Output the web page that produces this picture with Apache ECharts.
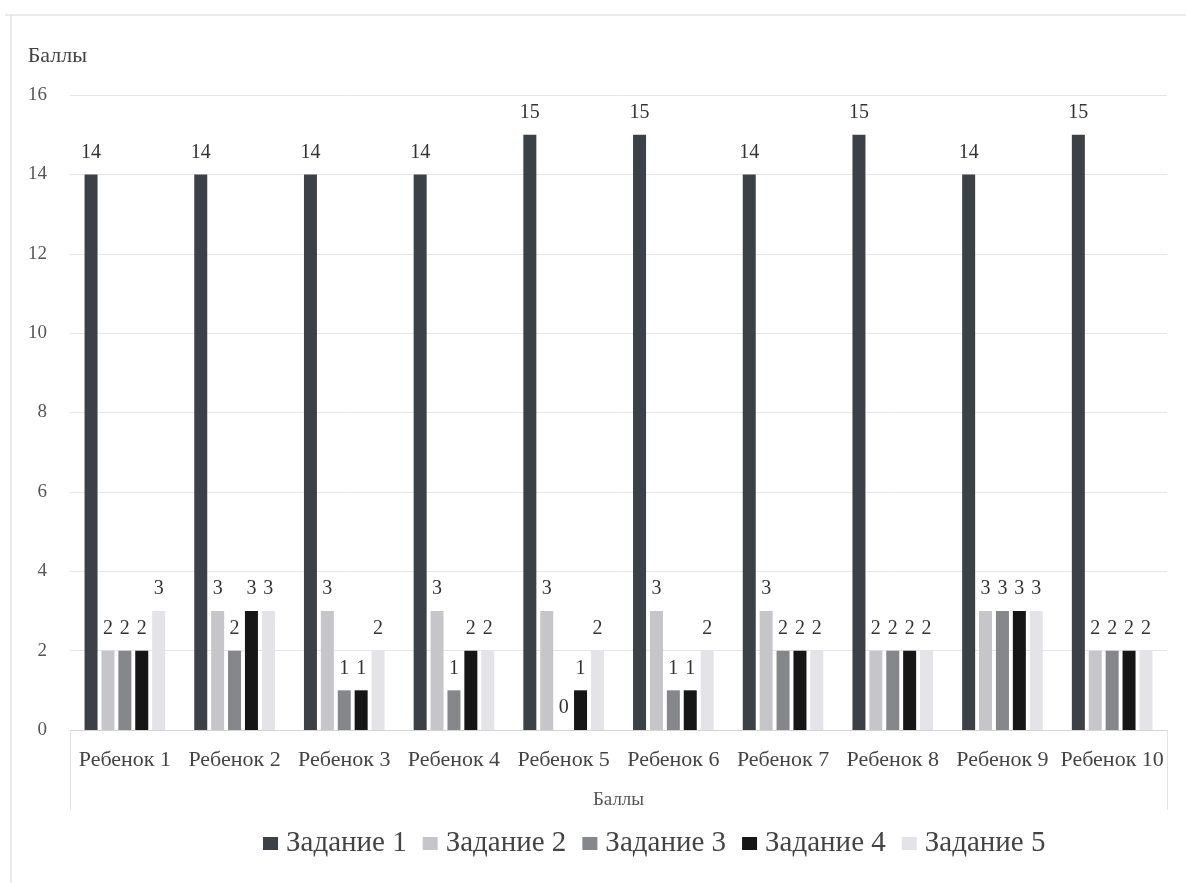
<!DOCTYPE html>
<html>
<head>
<meta charset="utf-8">
<script src="https://cdn.jsdelivr.net/npm/echarts@6/dist/echarts.min.js"></script>
<style>
  html, body { margin: 0; padding: 0; background: #ffffff; }
  #chart { width: 1186px; height: 883px; }
</style>
</head>
<body>
<div id="chart"></div>
<script>
// Scores of each child for the five tasks
const categories = ['Ребенок 1', 'Ребенок 2', 'Ребенок 3', 'Ребенок 4', 'Ребенок 5',
                    'Ребенок 6', 'Ребенок 7', 'Ребенок 8', 'Ребенок 9', 'Ребенок 10'];
const seriesNames = ['Задание 1', 'Задание 2', 'Задание 3', 'Задание 4', 'Задание 5'];
const task1 = [14, 14, 14, 14, 15, 15, 14, 15, 14, 15];
const task2 = [2, 3, 3, 3, 3, 3, 3, 2, 3, 2];
const task3 = [2, 2, 1, 1, 0, 1, 2, 2, 3, 2];
const task4 = [2, 3, 1, 2, 1, 1, 2, 2, 3, 2];
const task5 = [3, 3, 2, 2, 2, 2, 2, 2, 3, 2];
const yTicks = { min: 0, max: 16, interval: 2 };

const seriesData = [task1, task2, task3, task4, task5];
const colors = ['#3c4147', '#c6c6ca', '#86878b', '#161616', '#e3e3e8'];
const serif = '"Liberation Serif", "DejaVu Serif", serif';

const chart = echarts.init(document.getElementById('chart'), null, { renderer: 'canvas' });

chart.setOption({
  backgroundColor: '#ffffff',
  animation: false,
  color: colors,
  textStyle: { fontFamily: serif },
  grid: { left: 70, right: 19, top: 95, bottom: 153, containLabel: false },
  legend: {
    data: seriesNames,
    bottom: 20,
    left: 258,
    itemWidth: 15,
    itemHeight: 13,
    itemGap: 16,
    icon: 'rect',
    textStyle: { fontFamily: serif, fontSize: 29, color: '#444', padding: [0, 0, 0, 3] }
  },
  xAxis: {
    type: 'category',
    data: categories,
    name: 'Баллы',
    nameLocation: 'middle',
    nameGap: 61,
    nameTextStyle: { fontFamily: serif, fontSize: 19, color: '#555' },
    axisLine: { show: true, lineStyle: { color: '#d4d4d4', width: 1 } },
    axisTick: { show: false },
    axisLabel: { fontFamily: serif, fontSize: 22, color: '#444', margin: 19, interval: 0 }
  },
  yAxis: {
    type: 'value',
    min: yTicks.min,
    max: yTicks.max,
    interval: yTicks.interval,
    name: 'Баллы',
    nameLocation: 'end',
    nameGap: 28,
    nameTextStyle: { fontFamily: serif, fontSize: 22, color: '#444', align: 'right', padding: [0, -17, 0, 0] },
    axisLine: { show: false },
    axisTick: { show: false },
    axisLabel: { fontFamily: serif, fontSize: 19, color: '#555', margin: 23 },
    splitLine: { lineStyle: { color: '#e6e6e6', width: 1 } }
  },
  series: seriesNames.map((name, i) => ({
    name: name,
    type: 'bar',
    data: seriesData[i],
    barWidth: 13,
    barGap: '30%',
    itemStyle: { color: colors[i] },
    label: {
      show: true,
      position: 'top',
      distance: 12,
      fontFamily: serif,
      fontSize: 20,
      color: '#333'
    }
  })),
  graphic: [
    // outer frame of the chart area
    { type: 'line', shape: { x1: 5, y1: 15, x2: 1186, y2: 15 }, style: { stroke: '#d6d6d6', lineWidth: 1 } },
    { type: 'line', shape: { x1: 11, y1: 15, x2: 11, y2: 883 }, style: { stroke: '#d6d6d6', lineWidth: 1 } },
    // category table borders below the axis
    { type: 'line', shape: { x1: 70.5, y1: 730, x2: 70.5, y2: 810 }, style: { stroke: '#e4e4e4', lineWidth: 1 } },
    { type: 'line', shape: { x1: 1167.5, y1: 730, x2: 1167.5, y2: 810 }, style: { stroke: '#e4e4e4', lineWidth: 1 } }
  ]
});
</script>
</body>
</html>
